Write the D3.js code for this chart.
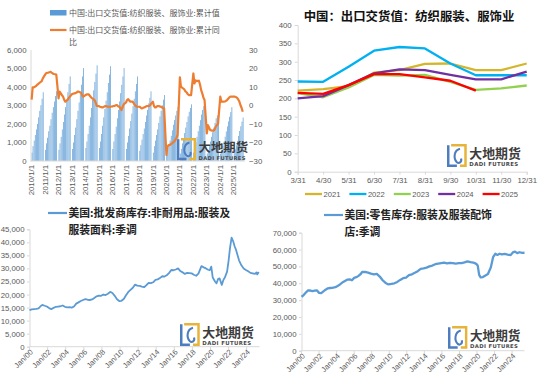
<!DOCTYPE html>
<html>
<head>
<meta charset="utf-8">
<script src="https://cdn.jsdelivr.net/npm/d3@7"></script>
<style>
  body { margin: 0; background: #fff; }
  svg { display: block; }
</style>
</head>
<body>
<div id="chart"></div>
<script>
// ---- data -------------------------------------------------------------
const exportYears = [2010, 2011, 2012, 2013, 2014, 2015, 2016, 2017, 2018, 2019, 2020, 2021, 2022, 2023, 2024, 2025];
// cumulative value, Feb..Dec of each year
const exportCumulative = [
  [450, 800, 1100, 1400, 1700, 2000, 2350, 2700, 3000, 3350, 3700],
  [600, 950, 1250, 1600, 1900, 2250, 2600, 2900, 3200, 3500, 3750],
  [600, 950, 1300, 1700, 2100, 2500, 2900, 3300, 3700, 4150, 4550],
  [650, 1000, 1400, 1800, 2250, 2700, 3150, 3600, 4100, 4550, 5000],
  [700, 1050, 1450, 1900, 2350, 2850, 3300, 3800, 4250, 4700, 5150],
  [700, 1050, 1450, 1900, 2350, 2800, 3250, 3700, 4200, 4650, 5100],
  [650, 1050, 1450, 1850, 2300, 2750, 3200, 3650, 4100, 4550, 5000],
  [650, 1000, 1350, 1750, 2150, 2550, 2950, 3350, 3750, 4150, 4550],
  [550, 850, 1150, 1450, 1750, 2100, 2450, 2750, 3100, 3400, 3750],
  [450, 800, 1100, 1400, 1700, 2050, 2400, 2700, 3000, 3300, 3550],
  [350, 600, 850, 1100, 1350, 1650, 1950, 2200, 2450, 2700, 2900],
  [400, 650, 950, 1200, 1500, 1800, 2100, 2400, 2650, 2850, 3050],
  [450, 700, 1000, 1300, 1600, 1900, 2200, 2500, 2750, 2950, 3000],
  [400, 600, 800, 1050, 1300, 1550, 1800, 2050, 2300, 2450, 2600],
  [400, 600, 805, 1040, 1310, 1590, 1865, 2130, 2380, 2630, 2900],
  [420, 635, 845, 1085, 1350, 1615, 1870, 2120, 2340],
];
// cumulative YoY %, Feb..Dec of each year
const exportYoY = [
  [3, 9.6, 9.6, 10, 10.3, 11, 11.5, 12, 12.5, 13, 14.5],
  [16.5, 17.2, 17.5, 17.6, 17.8, 18, 17.5, 17, 16.8, 16.7, 16.5],
  [3.7, 7.3, 6.4, 5.5, 4.6, 3, 1.9, 2.5, 2.8, 3.8, 4.6],
  [6, 6.2, 6.4, 6.5, 6.8, 7.3, 7.3, 7, 6.7, 5.5, 4.6],
  [5.5, 5.8, 5.8, 5.8, 5, 4.2, 3.7, 3.3, 2.8, 1.5, -0.4],
  [-0.5, -0.8, -1, -1.2, -1, -0.6, -0.4, -0.6, -0.8, -0.8, -0.8],
  [-0.6, -0.4, -0.3, 0, 0.1, -0.5, -0.8, -1.5, -2.6, -1, 0.5],
  [1.5, 2.8, 3.3, 2.6, 1.9, 1.9, 1.9, 1, 0, -0.4, -0.8],
  [-0.8, -1.2, -1.7, -1.5, -1.2, -1, -0.6, -0.4, -0.4, -0.4, 0.5],
  [1.9, -0.4, -1.2, -1, -0.4, -0.4, -0.6, -0.8, -1, -1.5, -1.7],
  [-26.8, -22.3, -21.5, -21.4, -21, -20.5, -20, -19.5, -18.7, -17.5, -16],
  [15, 10, 9.5, 9, 8.5, 7.5, 7, 6, 5.5, 5.5, 5.5],
  [17.1, 11.7, 13.4, 13, 13.1, 13.2, 11, 8, 6.4, 4, 2.8],
  [-15.1, -10.7, -12, -13.3, -13.5, -13.7, -13.7, -13, -11.5, -10.7, -10],
  [4.6, 1.9, 1.9, 1.9, 2, 2.3, 2.8, 3.5, 4.2, 4.6, 4.6],
  [4.6, 4.6, 4.4, 4, 3.1, 2, 0, -1.5, -3.5],
];

const monthEnds = ["3/31", "4/30", "5/31", "6/30", "7/31", "8/31", "9/30", "10/31", "11/30", "12/31"];
const seasonYears = ["2021", "2022", "2023", "2024", "2025"];
const monthly2021 = [221, 225, 233, 270, 277, 294, 295, 277, 277, 295];
const monthly2022 = [246, 245, 286, 330, 340, 336, 295, 263, 263, 263];
const monthly2023 = [214, 203, 230, 264, 262, 264, 245, 223, 227, 235];
const monthly2024 = [200, 206, 236, 268, 279, 277, 264, 252, 252, 273];
const monthly2025 = [215, 212, 236, 266, 266, 257, 248, 221];

const wholesaleInventory = [
  ["2000-01", 14000], ["2000-04", 14300], ["2000-07", 14400], ["2000-10", 14500],
  ["2001-01", 14700], ["2001-04", 15600], ["2001-06", 16000], ["2001-09", 15700], ["2001-12", 15400],
  ["2002-03", 14800], ["2002-06", 14400], ["2002-09", 14900], ["2002-12", 15300],
  ["2003-03", 15400], ["2003-06", 15500], ["2003-09", 15800], ["2003-12", 15300],
  ["2004-03", 15100], ["2004-06", 15200], ["2004-09", 15000], ["2004-12", 15400],
  ["2005-03", 16500], ["2005-06", 17000], ["2005-09", 17500], ["2005-12", 17900],
  ["2006-03", 18200], ["2006-06", 18000], ["2006-09", 17900], ["2006-12", 18100],
  ["2007-03", 18700], ["2007-06", 19300], ["2007-09", 19600], ["2007-12", 19500],
  ["2008-03", 20000], ["2008-06", 19800], ["2008-09", 20300], ["2008-12", 21000],
  ["2009-03", 20600], ["2009-06", 19500], ["2009-09", 18200], ["2009-12", 17500],
  ["2010-03", 17600], ["2010-06", 18300], ["2010-09", 19700], ["2010-12", 21000],
  ["2011-03", 21800], ["2011-06", 22600], ["2011-09", 23800], ["2011-12", 23400],
  ["2012-03", 23300], ["2012-06", 23000], ["2012-09", 22800], ["2012-12", 23600],
  ["2013-03", 24500], ["2013-06", 24400], ["2013-09", 24700], ["2013-12", 25600],
  ["2014-03", 25800], ["2014-06", 26300], ["2014-09", 27000], ["2014-12", 26900],
  ["2015-03", 27400], ["2015-06", 28200], ["2015-09", 29400], ["2015-12", 29300],
  ["2016-03", 29600], ["2016-06", 30000], ["2016-09", 29000], ["2016-12", 28500],
  ["2017-03", 27900], ["2017-06", 28300], ["2017-09", 28200], ["2017-12", 28100],
  ["2018-03", 27600], ["2018-06", 27200], ["2018-09", 28000], ["2019-01", 30900],
  ["2019-04", 30400], ["2019-07", 30000], ["2019-10", 29500], ["2019-12", 29300],
  ["2020-02", 30700], ["2020-04", 26500], ["2020-07", 25000], ["2020-09", 24300], ["2020-11", 25900],
  ["2021-01", 26200], ["2021-04", 23700], ["2021-06", 25500], ["2021-08", 26500], ["2021-11", 28800],
  ["2022-01", 33000], ["2022-03", 38000], ["2022-05", 41800], ["2022-07", 40500], ["2022-09", 38500],
  ["2022-11", 37000], ["2023-01", 35000], ["2023-03", 33000], ["2023-06", 31200], ["2023-09", 30000],
  ["2023-12", 29400], ["2024-03", 28900], ["2024-06", 28300], ["2024-09", 28100], ["2024-12", 27900],
  ["2025-02", 28500], ["2025-03", 27700], ["2025-05", 28600],
];

const retailInventory = [
  ["2000-01", 32000], ["2000-04", 33000], ["2000-07", 34500], ["2000-10", 35800],
  ["2001-01", 35700], ["2001-04", 35400], ["2001-07", 35600], ["2001-10", 35800],
  ["2002-01", 34300], ["2002-04", 34200], ["2002-07", 35200], ["2002-10", 36200],
  ["2003-01", 37000], ["2003-04", 37200], ["2003-07", 37300], ["2003-10", 37500],
  ["2004-01", 38000], ["2004-04", 38800], ["2004-07", 39800], ["2004-10", 40800],
  ["2005-01", 41500], ["2005-04", 42200], ["2005-07", 42300], ["2005-10", 41800],
  ["2006-01", 43200], ["2006-04", 43600], ["2006-07", 44400], ["2006-10", 45500], ["2006-12", 46800],
  ["2007-04", 46700], ["2007-08", 46300], ["2007-12", 45700],
  ["2008-04", 45300], ["2008-08", 45600], ["2008-12", 44000],
  ["2009-04", 41800], ["2009-08", 40200], ["2009-12", 39300],
  ["2010-04", 39600], ["2010-08", 40000], ["2010-12", 40800],
  ["2011-04", 42000], ["2011-08", 43000], ["2011-12", 43300],
  ["2012-04", 44800], ["2012-08", 45300], ["2012-12", 46200],
  ["2013-04", 47200], ["2013-08", 48600], ["2013-12", 48800],
  ["2014-04", 49300], ["2014-08", 50000], ["2014-12", 50500],
  ["2015-04", 51300], ["2015-08", 51700], ["2015-12", 52000],
  ["2016-04", 52300], ["2016-08", 51800], ["2016-12", 52100],
  ["2017-04", 52000], ["2017-08", 51700], ["2017-12", 51900],
  ["2018-04", 52000], ["2018-08", 52400], ["2018-12", 53000],
  ["2019-04", 52500], ["2019-08", 52300], ["2019-12", 51500],
  ["2020-02", 50500], ["2020-04", 45000], ["2020-06", 43500], ["2020-09", 43700], ["2020-12", 44500],
  ["2021-04", 45500], ["2021-08", 49500], ["2021-11", 55500],
  ["2022-02", 57500], ["2022-05", 56800], ["2022-08", 57500], ["2022-11", 57100],
  ["2023-03", 57400], ["2023-07", 57000], ["2023-11", 56700],
  ["2024-02", 58300], ["2024-05", 58800], ["2024-08", 57900], ["2024-11", 58400],
  ["2025-03", 58000], ["2025-06", 58100],
];

const leftTicks = [0, 1000, 2000, 3000, 4000, 5000, 6000];
const yoyTicks = [-30, -20, -10, 0, 10, 20, 30];
const seasonTicks = [0, 50, 100, 150, 200, 250, 300, 350, 400];
const wholesaleTicks = [0, 5000, 10000, 15000, 20000, 25000, 30000, 35000, 40000, 45000];
const retailTicks = [0, 10000, 20000, 30000, 40000, 50000, 60000, 70000];
const inventoryTickYears = [2000, 2002, 2004, 2006, 2008, 2010, 2012, 2014, 2016, 2018, 2020, 2022, 2024];

// ---- style ------------------------------------------------------------
const COLORS = {
  bar: "#5b9bd5",
  yoy: "#ed7d31",
  axis: "#d9d9d9",
  label: "#595959",
  inventory: "#5b9bd5",
  season: ["#d4b62c", "#00b0f0", "#92d050", "#7030a0", "#ff0000"],
};
const NUM_FONT = '"Liberation Sans", Arial, sans-serif';
const CJK_FONT = '"Noto Sans CJK SC", sans-serif';

const svg = d3
  .select("#chart")
  .append("svg")
  .attr("width", 550)
  .attr("height", 382)
  .style("background", "#fff");

const parseMonth = d3.timeParse("%Y-%m");

function styleAxis(g, size) {
  g.selectAll(".domain").attr("stroke", COLORS.axis);
  g.selectAll(".tick line").attr("stroke", COLORS.axis);
  g.selectAll("text")
    .attr("fill", COLORS.label)
    .style("font-family", NUM_FONT)
    .style("font-size", (size || 7.8) + "px");
}

function drawLogo(x, y, s) {
  const g = svg.append("g").attr("transform", `translate(${x},${y}) scale(${s})`);
  g.append("path")
    .attr("d", "M4,1.2 H17.8 V21 H12.5")
    .attr("fill", "none")
    .attr("stroke", "#e7b43a")
    .attr("stroke-width", 2.4);
  g.append("path")
    .attr("d", "M1.2,1.2 V21 H9.5")
    .attr("fill", "none")
    .attr("stroke", "#4d7cbf")
    .attr("stroke-width", 2.4);
  g.append("path")
    .attr("d", "M12.5,4.5 C6.5,6 6,14 9.5,17.5 C11.5,19.2 14.5,17.5 13.5,14")
    .attr("fill", "none")
    .attr("stroke", "#4d7cbf")
    .attr("stroke-width", 2);
  g.append("text")
    .attr("x", 21.5)
    .attr("y", 13.6)
    .text("大地期货")
    .attr("fill", "#3c3c3c")
    .style("font-family", CJK_FONT)
    .style("font-weight", 700)
    .style("font-size", "12.4px");
  g.append("text")
    .attr("x", 21.5)
    .attr("y", 21.6)
    .text("DADI FUTURES")
    .attr("fill", "#4a4a4a")
    .style("font-family", '"DejaVu Sans", sans-serif')
    .style("font-weight", 700)
    .style("font-size", "5.2px")
    .style("letter-spacing", "0.35px");
}

// ---- top left: cumulative export value + YoY --------------------------
const xTL = d3.scaleTime().domain([new Date(2010, 0, 1), new Date(2025, 11, 1)]).range([30.5, 245]);
const yTL = d3.scaleLinear().domain([0, 6000]).range([161, 49.5]);
const yYoY = d3.scaleLinear().domain([-30, 30]).range([161, 49.5]);
const monthW = xTL(new Date(2011, 0, 1)) - xTL(new Date(2010, 11, 1));

const barData = [];
const yoyData = [];
exportYears.forEach((year, i) => {
  exportCumulative[i].forEach((v, j) => barData.push({ date: new Date(year, j + 1, 1), value: v }));
  exportYoY[i].forEach((v, j) => yoyData.push({ date: new Date(year, j + 1, 1), value: v }));
});

svg.append("g")
  .selectAll("rect")
  .data(barData)
  .join("rect")
  .attr("x", (d) => xTL(d.date))
  .attr("width", monthW * 0.62)
  .attr("y", (d) => yTL(d.value))
  .attr("height", (d) => yTL(0) - yTL(d.value))
  .attr("fill", COLORS.bar);

svg.append("g")
  .attr("transform", "translate(30.5,0)")
  .call(d3.axisLeft(yTL).tickValues(leftTicks).tickSize(0).tickPadding(4))
  .call(styleAxis);

svg.append("g")
  .attr("transform", "translate(245,0)")
  .call(d3.axisRight(yYoY).tickValues(yoyTicks).tickSize(0).tickPadding(4))
  .call(styleAxis)
  .call((g) => g.select(".domain").remove());

svg.append("line")
  .attr("x1", 30.5).attr("x2", 245)
  .attr("y1", yTL(0)).attr("y2", yTL(0))
  .attr("stroke", COLORS.axis);

svg.append("g")
  .selectAll("text")
  .data(exportYears)
  .join("text")
  .attr("transform", (d) => `translate(${xTL(new Date(d, 0, 1)) + 1},165) rotate(-90)`)
  .attr("dy", "0.35em")
  .attr("text-anchor", "end")
  .text((d) => `${d}/1/1`)
  .attr("fill", COLORS.label)
  .style("font-family", NUM_FONT)
  .style("font-size", "7.8px");

svg.append("path")
  .datum(yoyData)
  .attr("fill", "none")
  .attr("stroke", COLORS.yoy)
  .attr("stroke-width", 2.2)
  .attr("stroke-linejoin", "round")
  .attr("d", d3.line().x((d) => xTL(d.date)).y((d) => yYoY(d.value)));

// legend
svg.append("rect").attr("x", 50).attr("y", 10).attr("width", 16.5).attr("height", 5.5).attr("fill", COLORS.bar);
svg.append("line").attr("x1", 50).attr("x2", 66.5).attr("y1", 30).attr("y2", 30)
  .attr("stroke", COLORS.yoy).attr("stroke-width", 2.2);
const tlLegend = [
  ["中国:出口交货值:纺织服装、服饰业:累计值", 69, 15.8],
  ["中国:出口交货值:纺织服装、服饰业:累计同", 69, 33],
  ["比", 69, 45],
];
svg.append("g")
  .selectAll("text")
  .data(tlLegend)
  .join("text")
  .attr("x", (d) => d[1])
  .attr("y", (d) => d[2])
  .text((d) => d[0])
  .attr("fill", COLORS.label)
  .style("font-family", CJK_FONT)
  .style("font-size", "8px");

drawLogo(177, 138, 1);

// ---- top right: monthly value by year ---------------------------------
const xTR = d3.scalePoint().domain(monthEnds).range([297.7, 526.7]);
const yTR = d3.scaleLinear().domain([0, 400]).range([171.7, 25]);
const seasonValues = [monthly2021, monthly2022, monthly2023, monthly2024, monthly2025];

svg.append("text")
  .attr("x", 409)
  .attr("y", 20.5)
  .attr("text-anchor", "middle")
  .text("中国：出口交货值：纺织服装、服饰业")
  .attr("fill", "#111")
  .style("font-family", CJK_FONT)
  .style("font-weight", 700)
  .style("font-size", "12.4px");

svg.append("g")
  .attr("transform", "translate(297.7,0)")
  .call(d3.axisLeft(yTR).tickValues(seasonTicks).tickSize(3).tickPadding(3))
  .call(styleAxis);

svg.append("g")
  .attr("transform", "translate(0,171.7)")
  .call(d3.axisBottom(xTR).tickSize(3).tickPadding(3))
  .call(styleAxis);

const seasonLine = d3.line().x((d, i) => xTR(monthEnds[i])).y((d) => yTR(d));
seasonValues.forEach((vals, k) => {
  svg.append("path")
    .datum(vals)
    .attr("fill", "none")
    .attr("stroke", COLORS.season[k])
    .attr("stroke-width", 2.3)
    .attr("stroke-linejoin", "round")
    .attr("d", seasonLine);
});

const trLegend = svg.append("g")
  .selectAll("g")
  .data(seasonYears)
  .join("g")
  .attr("transform", (d, i) => `translate(${305 + i * 44.4},194)`);
trLegend.append("line")
  .attr("x1", 0).attr("x2", 17)
  .attr("stroke", (d, i) => COLORS.season[i])
  .attr("stroke-width", 2.3);
trLegend.append("text")
  .attr("x", 18.5)
  .attr("dy", "0.35em")
  .text((d) => d)
  .attr("fill", COLORS.label)
  .style("font-family", NUM_FONT)
  .style("font-size", "7.6px");

drawLogo(447, 144, 1.04);

// ---- bottom panels: US inventories ------------------------------------
function inventoryPanel(opts) {
  const x = d3.scaleTime().domain([new Date(2000, 0, 1), new Date(2025, 5, 1)]).range(opts.xRange);
  const y = d3.scaleLinear().domain([0, opts.max]).range(opts.yRange);
  const y0 = opts.yRange[0];

  svg.append("g")
    .attr("transform", `translate(${opts.xRange[0]},0)`)
    .call(d3.axisLeft(y).tickValues(opts.ticks).tickSize(2.5).tickPadding(2.5))
    .call(styleAxis);

  svg.append("line")
    .attr("x1", opts.xRange[0]).attr("x2", opts.xRange[1])
    .attr("y1", y0).attr("y2", y0)
    .attr("stroke", COLORS.axis);

  svg.append("g")
    .selectAll("line")
    .data(inventoryTickYears)
    .join("line")
    .attr("x1", (d) => x(new Date(d, 0, 1)))
    .attr("x2", (d) => x(new Date(d, 0, 1)))
    .attr("y1", y0).attr("y2", y0 + 3)
    .attr("stroke", COLORS.axis);

  svg.append("g")
    .selectAll("text")
    .data(inventoryTickYears)
    .join("text")
    .attr("transform", (d) => `translate(${x(new Date(d, 0, 1)) + 2},${y0 + 4}) rotate(-45)`)
    .attr("dy", "0.35em")
    .attr("text-anchor", "end")
    .text((d) => "Jan/" + String(d).slice(2))
    .attr("fill", COLORS.label)
    .style("font-family", NUM_FONT)
    .style("font-size", "7.6px");

  svg.append("path")
    .datum(opts.data)
    .attr("fill", "none")
    .attr("stroke", COLORS.inventory)
    .attr("stroke-width", opts.width)
    .attr("stroke-linejoin", "round")
    .attr("d", d3.line().x((d) => x(parseMonth(d[0]))).y((d) => y(d[1])));

  svg.append("line")
    .attr("x1", opts.legendX).attr("x2", opts.legendX + 19)
    .attr("y1", opts.legendY).attr("y2", opts.legendY)
    .attr("stroke", COLORS.inventory)
    .attr("stroke-width", 2.2);

  svg.append("g")
    .selectAll("text")
    .data(opts.title)
    .join("text")
    .attr("x", opts.legendX + 20.5)
    .attr("y", (d, i) => opts.legendY + 4 + i * 16.5)
    .text((d) => d)
    .attr("fill", "#222")
    .style("font-family", CJK_FONT)
    .style("font-weight", 700)
    .style("font-size", "10.8px");
}

inventoryPanel({
  data: wholesaleInventory,
  max: 45000,
  ticks: wholesaleTicks,
  xRange: [29.5, 259.5],
  yRange: [346.7, 229.3],
  width: 1.8,
  legendX: 48,
  legendY: 213,
  title: ["美国:批发商库存:非耐用品:服装及", "服装面料:季调"],
});

inventoryPanel({
  data: retailInventory,
  max: 70000,
  ticks: retailTicks,
  xRange: [301.5, 524.5],
  yRange: [350.7, 232.7],
  width: 2.3,
  legendX: 324,
  legendY: 215,
  title: ["美国:零售库存:服装及服装配饰", "店:季调"],
});

drawLogo(180, 323, 1.04);
drawLogo(448, 326, 1.02);
</script>
</body>
</html>
